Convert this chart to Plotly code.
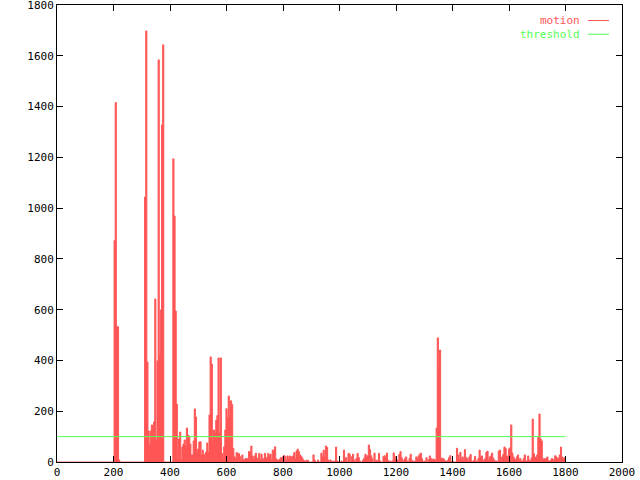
import plotly.graph_objects as go

# ---- data -------------------------------------------------------------
frame_step = 4
frames = list(range(0, 1801, frame_step))

motion = [
    0, 0, 0, 0, 0, 0, 0, 0, 0, 0,
    0, 0, 0, 0, 0, 0, 0, 0, 0, 0,
    0, 0, 0, 0, 0, 0, 0, 0, 0, 0,
    0, 0, 0, 0, 0, 0, 0, 0, 0, 0,
    0, 0, 0, 0, 0, 0, 0, 0, 0, 0,
    0, 872, 1416, 535, 532, 8, 0, 0, 0, 0,
    0, 0, 0, 0, 0, 0, 0, 0, 0, 0,
    0, 0, 0, 0, 0, 0, 0, 0, 1044, 1698,
    394, 122, 67, 123, 146, 122, 158, 642, 87, 399,
    1584, 421, 599, 1328, 1643, 0, 0, 0, 0, 0,
    0, 0, 0, 1194, 969, 595, 228, 12, 91, 118,
    8, 59, 71, 87, 63, 134, 106, 102, 71, 28,
    28, 83, 209, 177, 35, 51, 79, 80, 28, 47,
    31, 4, 39, 75, 39, 185, 414, 386, 71, 126,
    114, 165, 183, 410, 113, 410, 34, 18, 60, 126,
    210, 173, 260, 181, 241, 226, 54, 21, 14, 37,
    34, 33, 21, 5, 28, 9, 10, 14, 14, 10,
    41, 39, 63, 24, 13, 24, 35, 10, 16, 34,
    8, 31, 8, 14, 34, 12, 18, 34, 26, 31,
    8, 47, 47, 60, 13, 8, 8, 10, 18, 14,
    21, 26, 21, 5, 24, 14, 24, 21, 5, 24,
    37, 14, 43, 51, 41, 28, 24, 17, 8, 4,
    4, 7, 7, 0, 0, 0, 0, 28, 8, 0,
    0, 8, 0, 0, 35, 20, 47, 22, 63, 58,
    8, 0, 8, 4, 0, 4, 0, 59, 4, 0,
    0, 0, 4, 0, 47, 17, 17, 0, 34, 31,
    0, 21, 31, 8, 0, 14, 34, 18, 4, 0,
    0, 8, 16, 31, 22, 25, 67, 49, 25, 14,
    0, 35, 4, 7, 0, 34, 4, 0, 0, 22,
    25, 16, 35, 7, 0, 4, 0, 4, 36, 14,
    21, 9, 0, 30, 41, 17, 7, 0, 14, 20,
    4, 0, 14, 31, 7, 0, 4, 0, 20, 14,
    24, 31, 35, 14, 0, 4, 0, 17, 0, 10,
    24, 14, 7, 12, 10, 7, 134, 489, 362, 441,
    16, 14, 14, 7, 4, 0, 7, 17, 25, 0,
    4, 0, 0, 0, 54, 28, 8, 38, 14, 20,
    7, 49, 18, 14, 4, 20, 30, 4, 0, 7,
    22, 4, 0, 14, 47, 20, 24, 8, 0, 14,
    38, 43, 8, 20, 24, 35, 16, 7, 4, 4,
    0, 43, 47, 7, 20, 30, 59, 54, 24, 20,
    51, 56, 146, 35, 20, 12, 7, 20, 28, 7,
    14, 4, 4, 14, 28, 4, 4, 24, 7, 4,
    16, 169, 33, 20, 16, 28, 98, 189, 91, 83,
    14, 10, 14, 12, 20, 4, 4, 8, 14, 8,
    10, 25, 20, 14, 16, 28, 59, 20, 14, 17,
    20,
]

threshold_value = 100
threshold_frames = [0, 1800]

x_ticks = [0, 200, 400, 600, 800, 1000, 1200, 1400, 1600, 1800, 2000]
y_ticks = [0, 200, 400, 600, 800, 1000, 1200, 1400, 1600, 1800]

series_names = ["motion", "threshold"]
RED = "#ff5555"
GREEN = "#55ff55"
FONT = "DejaVu Sans Mono"
FSIZE = 11

assert len(motion) == len(frames)

# ---- figure -----------------------------------------------------------
fig = go.Figure()

fig.add_trace(go.Scatter(
    x=frames, y=motion, mode="lines", line_shape="hvh",
    line=dict(color=RED, width=1), fill="tozeroy", fillcolor=RED,
    name=series_names[0], showlegend=False, hoverinfo="skip",
))

fig.add_trace(go.Scatter(
    x=threshold_frames, y=[threshold_value] * len(threshold_frames),
    mode="lines", line=dict(color=GREEN, width=1),
    name=series_names[1], showlegend=False, hoverinfo="skip",
))

axis_common = dict(
    showgrid=False, zeroline=False, showline=True, linecolor="black",
    linewidth=1, mirror="ticks", ticks="inside", ticklen=6,
    tickcolor="black", tickwidth=1, automargin=False,
    ticklabeloverflow="allow",
    tickfont=dict(family=FONT, size=FSIZE, color="black"),
)

fig.update_xaxes(range=[0, 2000], tickvals=x_ticks,
                 ticktext=[str(v) for v in x_ticks], **axis_common)
fig.update_yaxes(range=[0, 1800], tickvals=y_ticks,
                 ticktext=[str(v) for v in y_ticks], **axis_common)

# gnuplot-style key (top right): text right-aligned, then a line sample
key_rows = [(series_names[0], RED, 0.966), (series_names[1], GREEN, 0.936)]
for name, color, yp in key_rows:
    fig.add_annotation(
        xref="paper", yref="paper", x=0.9275, y=yp, text=name,
        showarrow=False, xanchor="right", yanchor="middle", borderpad=0,
        font=dict(family=FONT, size=FSIZE, color=color),
    )
    fig.add_shape(
        type="line", xref="paper", yref="paper",
        x0=0.9398, x1=0.977, y0=yp, y1=yp,
        line=dict(color=color, width=1),
    )

fig.update_layout(
    width=640, height=480,
    margin=dict(l=57, r=18, t=5, b=18, autoexpand=False),
    paper_bgcolor="white", plot_bgcolor="white",
    font=dict(family=FONT, size=FSIZE, color="black"),
)

fig.write_html(
    "out.html",
    config={"displayModeBar": False, "staticPlot": True},
    post_script="document.body.style.margin='0px';document.body.style.overflow='hidden';",
)
